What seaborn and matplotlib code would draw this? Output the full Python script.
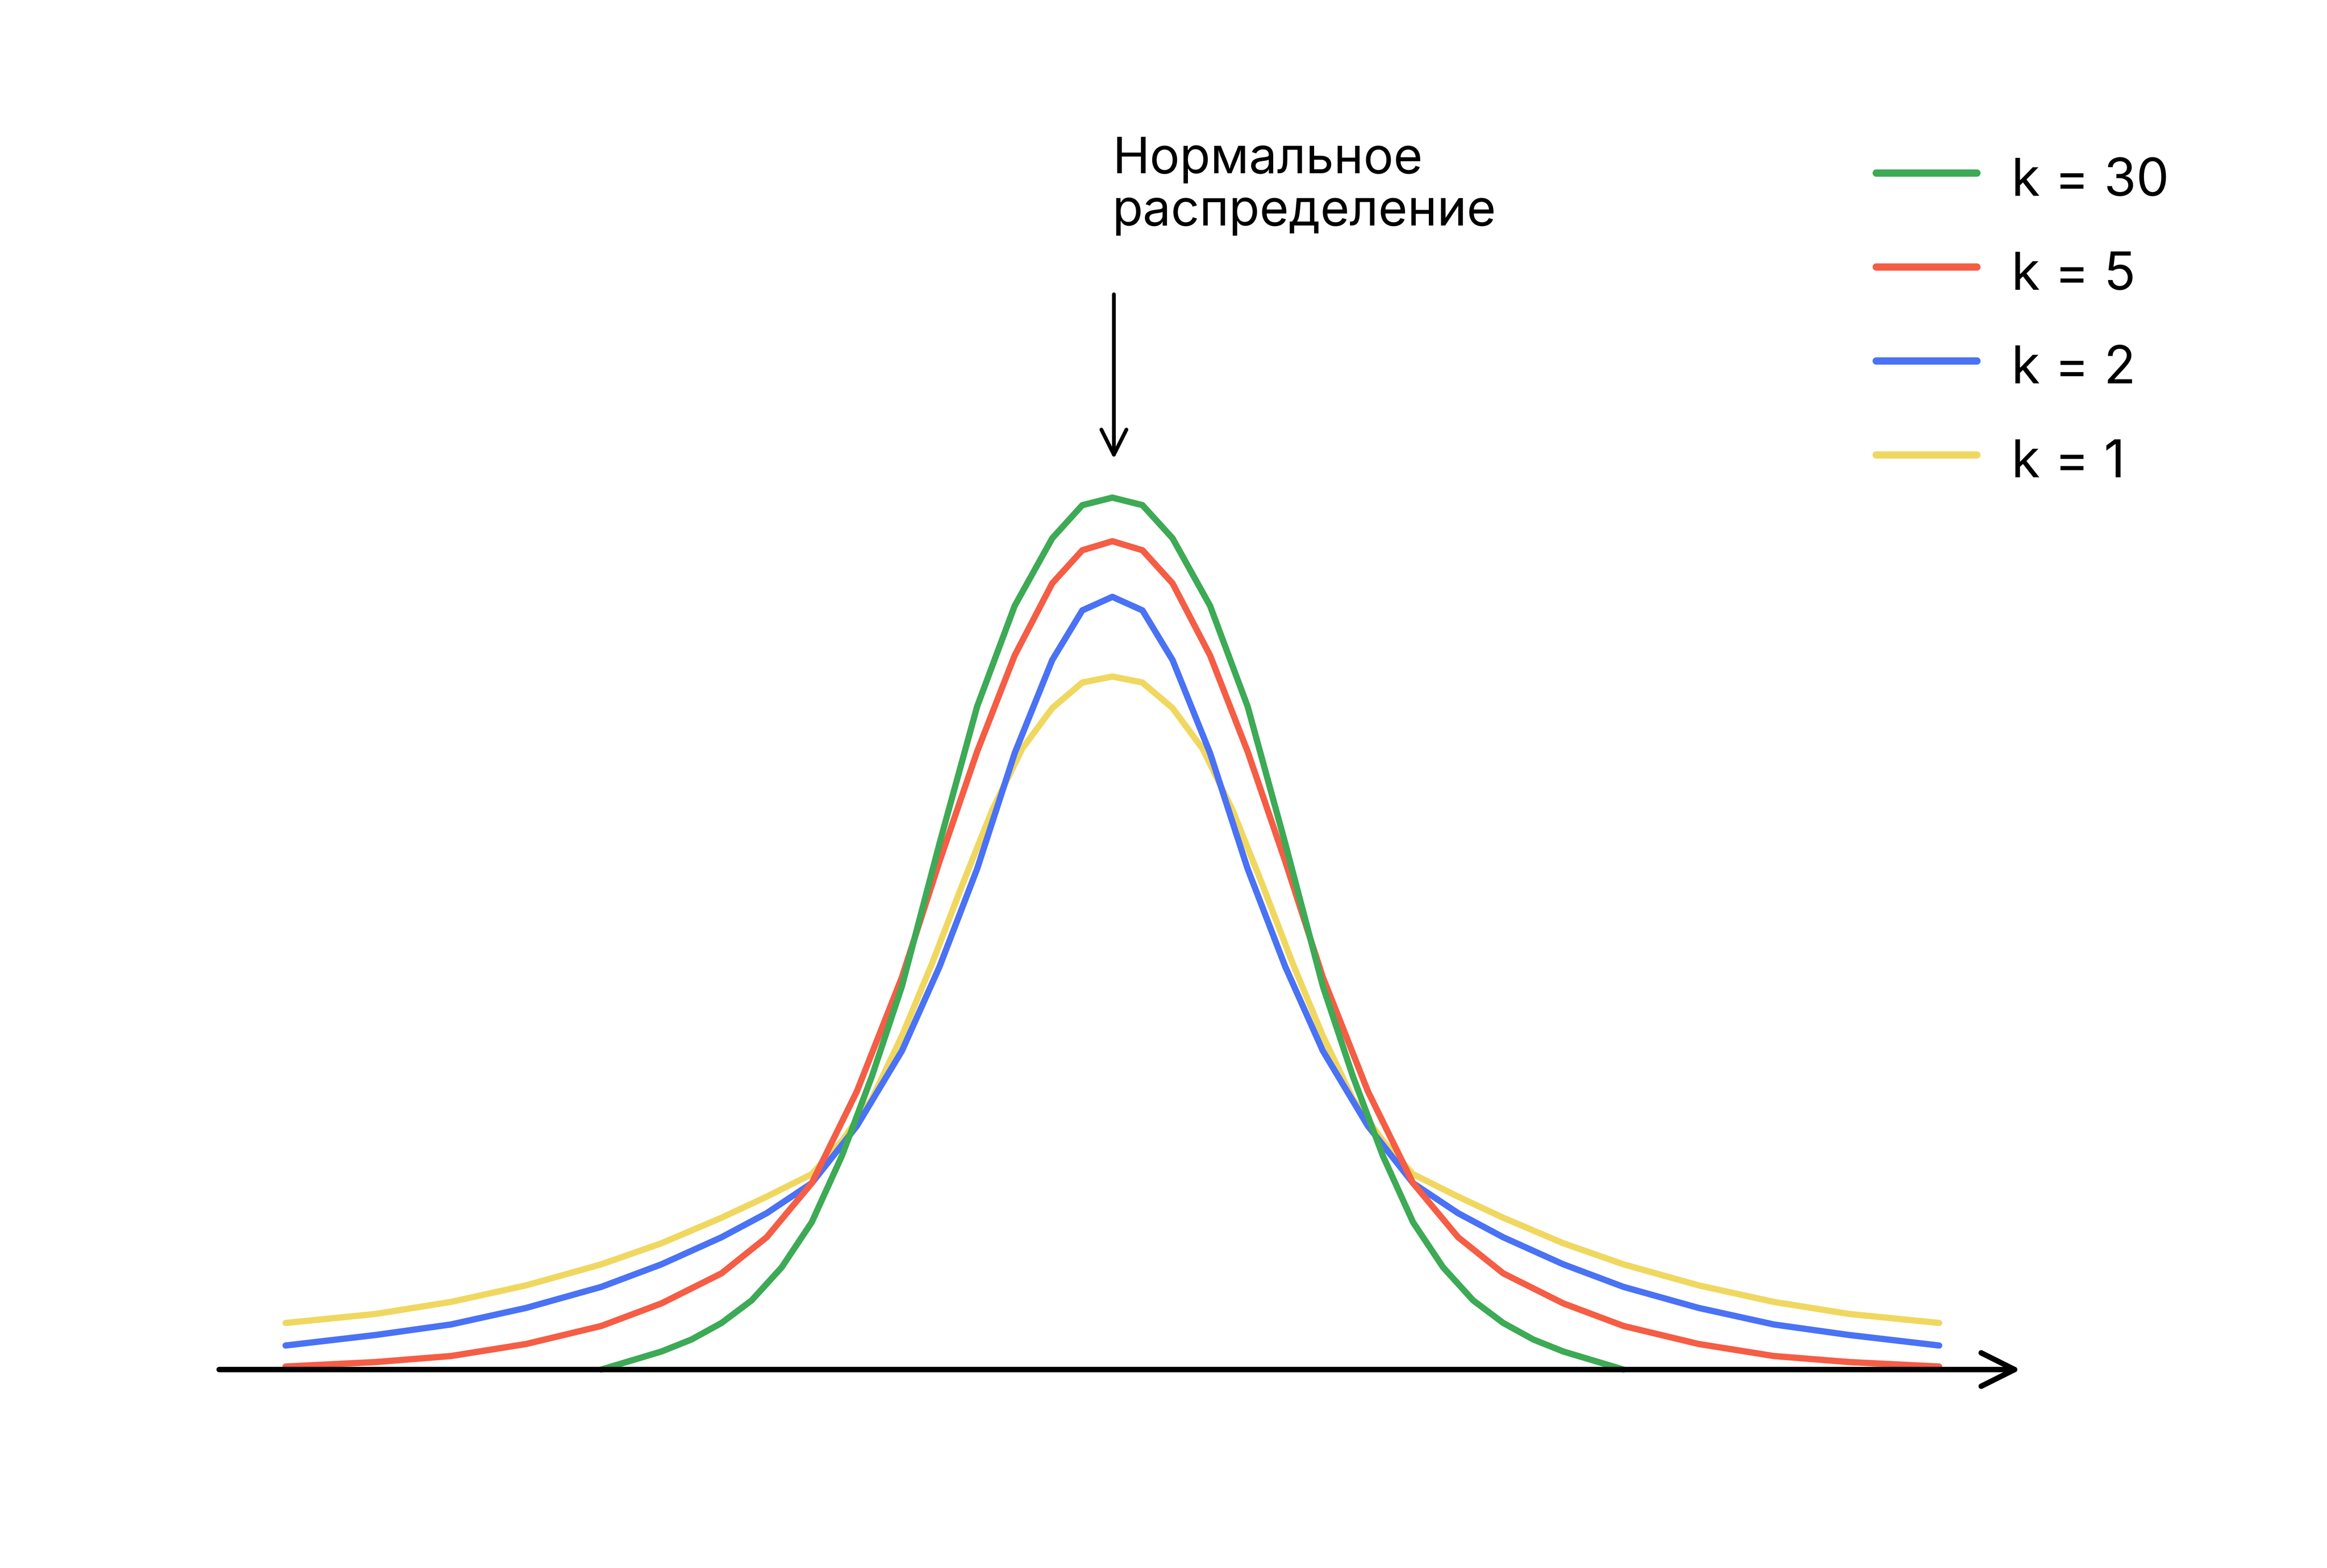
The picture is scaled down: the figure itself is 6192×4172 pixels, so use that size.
import matplotlib
matplotlib.use("Agg")
import matplotlib.pyplot as plt
import seaborn as sns
import pandas as pd

sns.set_theme(style="white")
plt.rcParams['font.family'] = ['Inter', 'DejaVu Sans']

# x positions (picture units) and curve heights
x_green = [400, 420, 440, 460, 480, 500, 520, 540, 560, 580, 600, 625, 650, 675, 700, 720, 740,
           760, 780, 805, 830, 855, 880, 900, 920, 940, 960, 980, 1000, 1020, 1040, 1060, 1080]
h_green = [0, 6, 12, 20, 31, 46, 68, 98, 142, 195, 255, 350, 441, 508, 553, 575, 580,
           575, 553, 508, 441, 350, 255, 195, 142, 98, 68, 46, 31, 20, 12, 6, 0]

x_red = [190, 250, 300, 350, 400, 440, 480, 510, 540, 570, 600, 625, 650, 675, 700, 720, 740,
         760, 780, 805, 830, 855, 880, 910, 940, 970, 1000, 1040, 1080, 1130, 1180, 1230, 1290]
h_red = [2, 5, 9, 17, 29, 44, 64, 88, 124, 185, 261, 338, 411, 475, 523, 545, 551,
         545, 523, 475, 411, 338, 261, 185, 124, 88, 64, 44, 29, 17, 9, 5, 2]

x_blue = [190, 250, 300, 350, 400, 440, 480, 510, 540, 570, 600, 625, 650, 675, 700, 720, 740,
          760, 780, 805, 830, 855, 880, 910, 940, 970, 1000, 1040, 1080, 1130, 1180, 1230, 1290]
h_blue = [16, 23, 30, 41, 55, 70, 88, 104, 124, 162, 212, 268, 333, 410, 472, 505, 514,
          505, 472, 410, 333, 268, 212, 162, 124, 104, 88, 70, 55, 41, 30, 23, 16]

x_yellow = [190, 250, 300, 350, 400, 440, 480, 510, 540, 560, 580, 600, 620, 640, 660, 680, 700, 720, 740,
            760, 780, 800, 820, 840, 860, 880, 900, 920, 940, 970, 1000, 1040, 1080, 1130, 1180, 1230, 1290]
h_yellow = [31, 37, 45, 56, 70, 84, 101, 115, 130, 152, 180, 222, 270, 322, 372, 413, 440, 457, 461,
            457, 440, 413, 372, 322, 270, 222, 180, 152, 130, 115, 101, 84, 70, 56, 45, 37, 31]

labels = ["k = 30", "k = 5", "k = 2", "k = 1"]
colors = ["#3daa55", "#f55d45", "#4a72f5", "#f0d860"]

frames = []
for lab, xs, hs in zip(labels, [x_green, x_red, x_blue, x_yellow],
                       [h_green, h_red, h_blue, h_yellow]):
    frames.append(pd.DataFrame({"x": xs, "h": hs, "k": lab}))
df = pd.concat(frames)

fig = plt.figure(figsize=(15.48, 10.43), dpi=400)
ax = fig.add_axes([0, 0, 1, 1])
for lab, col in zip(labels[::-1], colors[::-1]):
    sub = df[df.k == lab]
    sns.lineplot(data=sub, x="x", y="h", ax=ax, color=col, lw=3, sort=False,
                 legend=False)
for line in ax.lines:
    line.set_solid_joinstyle("round")

ax.set_xlim(0, 1548)
ax.set_ylim(-132, 911)
ax.axis("off")

# x axis with arrow
ax.annotate("", xy=(1347, 0), xytext=(143, 0),
            arrowprops=dict(arrowstyle="->", lw=2.6, color="black",
                            mutation_scale=40))
# annotation arrow
ax.annotate("", xy=(741, 603), xytext=(741, 718),
            arrowprops=dict(arrowstyle="->", lw=1.8, color="black",
                            mutation_scale=30))
ax.text(740, 820, "Нормальное\nраспределение", fontsize=24, va="top",
        ha="left", linespacing=1.15, color="black")

# legend
for i, (lab, col) in enumerate(zip(labels, colors)):
    yy = 911 - (115 + 62.5 * i)
    ax.plot([1248, 1315], [yy, yy], color=col, lw=3.5, solid_capstyle="round")
    ax.text(1338, yy - 6, lab, fontsize=25, va="center", ha="left", color="black")

fig.savefig("out.png", dpi=400)
